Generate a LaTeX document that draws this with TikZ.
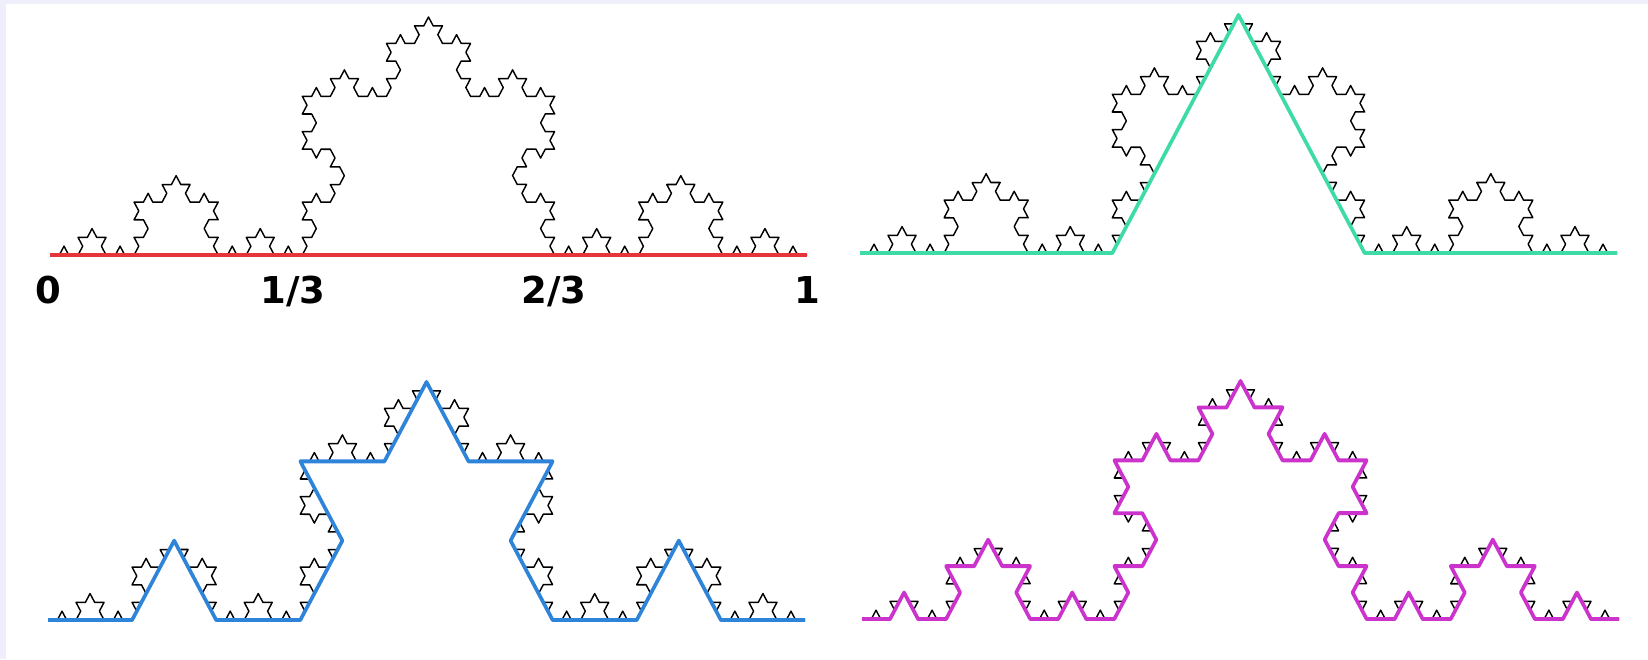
\documentclass[tikz,border=0pt]{standalone}
\usepackage{fontspec}
\newfontfamily\labelfont{DejaVu Sans}
\usetikzlibrary{decorations.fractals}
\usetikzlibrary{positioning}

\definecolor{framelav}{HTML}{EFEFFB}
\definecolor{kochred}{HTML}{E5343A}
\definecolor{kochgreen}{HTML}{3FDBA6}
\definecolor{kochblue}{HTML}{2E84D8}
\definecolor{kochmagenta}{HTML}{CC33CC}

\tikzset{
  koch/.style={draw=black, line width=0.7pt, line join=round, decoration=Koch snowflake},
  kochstep/.style={draw=#1, line width=1.8pt, line join=round, decoration=Koch snowflake},
  numlabel/.style={font=\labelfont\bfseries\fontsize{18.5}{20}\selectfont, inner sep=0pt},
}

\begin{document}
\begin{tikzpicture}[x=0.5pt, y=0.5pt]

  % Frame
  \useasboundingbox (0,0) rectangle (1648,659);
  \fill[white] (0,0) rectangle (1648,659);
  \fill[framelav] (0,655) rectangle (1648,659);
  \fill[framelav] (0,0) rectangle (6,659);

  % Level 0
  \begin{scope}[transform canvas={shift={(50,404)}, yscale=1.089}]
    \path[koch] decorate{decorate{decorate{decorate{(0,0) -- (757,0)}}}};
    \path[kochstep=kochred] (0,0) -- (757,0);
  \end{scope}

  % Level 1
  \begin{scope}[transform canvas={shift={(860,406)}, yscale=1.089}]
    \path[koch] decorate{decorate{decorate{decorate{(0,0) -- (757,0)}}}};
    \path[kochstep=kochgreen] decorate{(0,0) -- (757,0)};
  \end{scope}

  % Level 2
  \begin{scope}[transform canvas={shift={(48,39)}, yscale=1.089}]
    \path[koch] decorate{decorate{decorate{decorate{(0,0) -- (757,0)}}}};
    \path[kochstep=kochblue] decorate{decorate{(0,0) -- (757,0)}};
  \end{scope}

  % Level 3
  \begin{scope}[transform canvas={shift={(862,40)}, yscale=1.089}]
    \path[koch] decorate{decorate{decorate{decorate{(0,0) -- (757,0)}}}};
    \path[kochstep=kochmagenta] decorate{decorate{decorate{(0,0) -- (757,0)}}};
  \end{scope}

  % Scale marks
  \coordinate (zero) at (50,404);
  \coordinate (third) at (302,404);
  \coordinate (twothirds) at (554,404);
  \coordinate (one) at (807,404);

  \node[numlabel, below=24.25pt of zero, anchor=base, xshift=-1pt] (lzero) {0};
  \node[numlabel, below=24.25pt of third, anchor=base, xshift=-4.5pt] (lthird) {1/3};
  \node[numlabel, below=24.25pt of twothirds, anchor=base] (ltwothirds) {2/3};
  \node[numlabel, below=24.25pt of one, anchor=base] (lone) {1};

\end{tikzpicture}
\end{document}
